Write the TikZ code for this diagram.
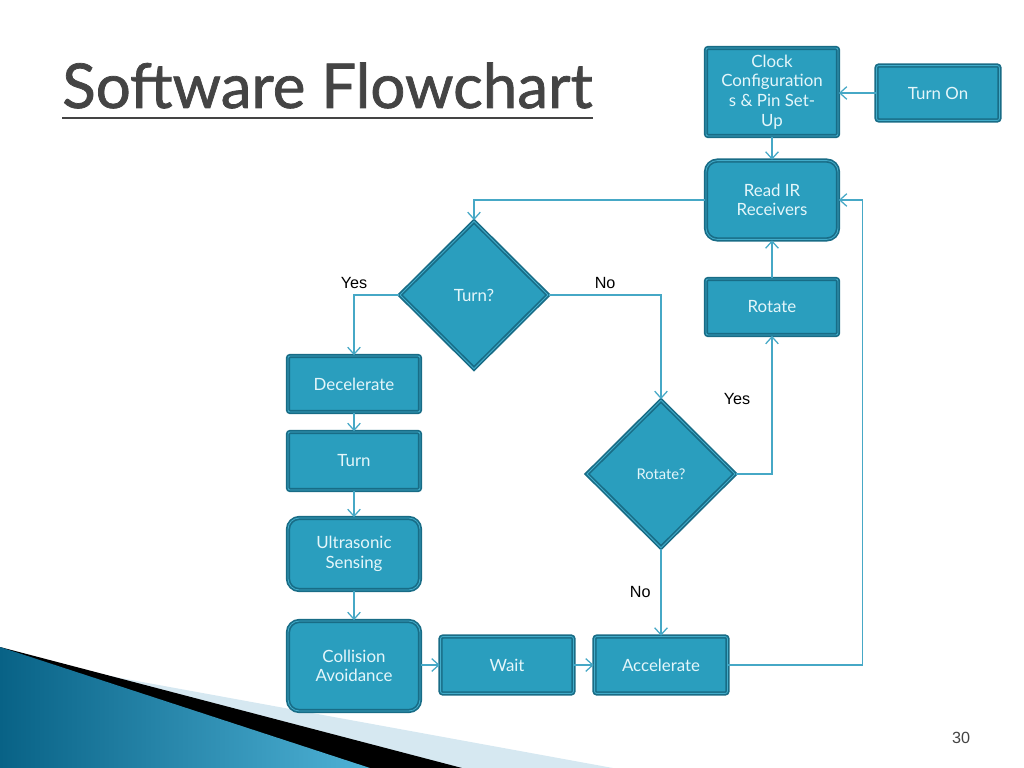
\documentclass[tikz,border=0pt]{standalone}
\usepackage{fontspec}
\setmainfont{Lato}
\newfontfamily\labelfont{Liberation Sans}
\newfontfamily\titlefont[FakeBold=1.2]{Lato}
\usepackage{tikz}
\usetikzlibrary{shapes.geometric, arrows.meta, positioning, calc}
\definecolor{flowfill}{RGB}{42, 158, 190}
\definecolor{flowedge}{RGB}{24, 108, 134}
\definecolor{flowinner}{RGB}{66, 172, 202}
\definecolor{flowline}{RGB}{70, 168, 198}
\definecolor{flowtext}{RGB}{228, 246, 250}
\definecolor{titlegray}{RGB}{68, 68, 68}
\definecolor{swooshlight}{RGB}{214, 232, 241}
\definecolor{swooshdark}{RGB}{8, 98, 134}
\definecolor{swooshmid}{RGB}{78, 178, 214}

\begin{document}
\begin{tikzpicture}[
    x=0.025cm, y=-0.025cm,
    >={Straight Barb[length=5pt, width=9pt]},
    procbox/.style={
        rectangle, rounded corners=1.5pt, draw=flowedge, double=flowinner, double distance=0.6pt,
        line width=1.2pt, fill=flowfill, text=flowtext, align=center,
        minimum width=3.3cm, minimum height=1.4cm, inner sep=2pt, font=\fontsize{12}{14}\selectfont
    },
    roundbox/.style={procbox, rounded corners=8pt},
    decision/.style={
        diamond, draw=flowedge, double=flowinner, double distance=0.6pt, line width=1.2pt,
        fill=flowfill, text=flowtext, minimum width=3.72cm, minimum height=3.7cm, inner sep=0pt,
        font=\fontsize{12}{14}\selectfont
    },
    flow/.style={draw=flowline, line width=0.9pt, ->},
    answer/.style={font=\labelfont\fontsize{11.5}{13}\selectfont, text=black, inner sep=1pt}
]
    \useasboundingbox (0,0) rectangle (1024,768);

    % Bottom left: slide swoosh
    \fill[swooshlight] (0,656) -- (613,768) -- (0,768) -- cycle;
    \fill[black] (0,647) -- (462,768) -- (0,768) -- cycle;
    \shade[left color=swooshdark, right color=swooshmid] (0,647) -- (370,768) -- (0,768) -- cycle;

    % Title
    \node[font=\titlefont\fontsize{44}{48}\selectfont, text=titlegray, anchor=base west, inner sep=0pt] (title) at (62,108) {Software Flowchart};
    \draw[titlegray, line width=2pt] ($(title.base west)+(0,10)$) -- ($(title.base east)+(0,10)$);

    % Top right: start-up
    \node[procbox, minimum height=2.2cm] (clock) at (772,92) {Clock\\Configuration\\s \& Pin Set-\\Up};
    \node[procbox, minimum width=3.07cm, minimum height=1.37cm] (turnon) at (938,93) {Turn On};
    \node[roundbox, minimum height=1.97cm] (readir) at (772,200) {Read IR\\Receivers};
    \node[procbox] (rotate) at (772,307) {Rotate};

    % Decisions
    \node[decision] (turnq) at (474,295) {Turn?};
    \node[decision, font=\fontsize{10.5}{12}\selectfont] (rotq) at (661,474) {Rotate?};

    % Left column
    \node[procbox] (decel) at (354,384) {Decelerate};
    \node[procbox, minimum height=1.45cm] (turn) at (354,461) {Turn};
    \node[roundbox, minimum height=1.8cm] (ultra) at (354,554) {Ultrasonic\\Sensing};
    \node[roundbox, minimum height=2.25cm] (collide) at (354,666) {Collision\\Avoidance};

    % Bottom row
    \node[procbox, minimum width=3.32cm, minimum height=1.42cm] (wait) at (507,665) {Wait};
    \node[procbox, minimum width=3.32cm, minimum height=1.42cm] (accel) at (661,665) {Accelerate};

    % Page number
    \node[font=\labelfont\fontsize{11.5}{13}\selectfont, text=titlegray] (pagenum) at (961,738) {30};

    % --- Connections ---
    \draw[flow] (turnon.west) -- (turnon.west -| clock.east);
    \draw[flow] (clock.south) -- (readir.north);
    \draw[flow] (readir.west) -| (turnq.north);
    \draw[flow] (turnq.west) -| node[answer, pos=0.5, above=3pt] {Yes} (decel.north);
    \draw[flow] (turnq.east) -| node[answer, pos=0.25, above=3pt] {No} (rotq.north);
    \draw[flow] (rotq.east) -| node[answer, pos=0.77, left=14pt] {Yes} (rotate.south);
    \draw[flow] (rotate.north) -- (readir.south);
    \draw[flow] (rotq.south) -- node[answer, midway, left=6pt] {No} (accel.north);
    \draw[flow] (decel.south) -- (turn.north);
    \draw[flow] (turn.south) -- (ultra.north);
    \draw[flow] (ultra.south) -- (collide.north);
    \draw[flow] (collide.east |- wait.west) -- (wait.west);
    \draw[flow] (wait.east) -- (accel.west);
    \draw[flow] (accel.east) -- ++(134,0) |- (readir.east);

\end{tikzpicture}
\end{document}
